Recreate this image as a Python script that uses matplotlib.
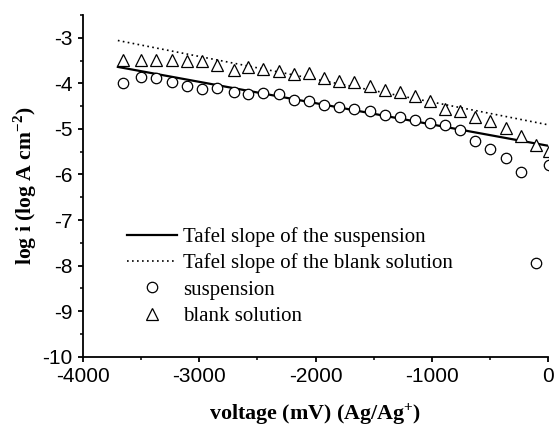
import matplotlib
matplotlib.use("Agg")
import matplotlib.pyplot as plt
from matplotlib.ticker import MultipleLocator

plt.rcParams['axes.unicode_minus'] = False
plt.rcParams['mathtext.fontset'] = 'custom'
plt.rcParams['mathtext.rm'] = 'Liberation Serif:bold'
plt.rcParams['mathtext.bf'] = 'Liberation Serif:bold'

# Measured points (potential in mV vs Ag/Ag+, log current density)
voltage = [-3653, -3500, -3369, -3237, -3106, -2975, -2845, -2704, -2578, -2452,
           -2317, -2188, -2057, -1930, -1799, -1667, -1535, -1406, -1277, -1148,
           -1011, -882, -753, -624, -497, -359, -230, -100, 11]
log_i_suspension = [-3.99, -3.87, -3.88, -3.97, -4.05, -4.12, -4.11, -4.20, -4.23, -4.21,
                    -4.23, -4.36, -4.39, -4.47, -4.52, -4.56, -4.61, -4.69, -4.74, -4.80,
                    -4.87, -4.92, -5.02, -5.26, -5.44, -5.64, -5.95, -7.94, -5.79]
log_i_blank = [-3.48, -3.48, -3.48, -3.48, -3.50, -3.50, -3.59, -3.70, -3.65, -3.68,
               -3.73, -3.79, -3.77, -3.89, -3.95, -3.98, -4.06, -4.14, -4.20, -4.28,
               -4.39, -4.56, -4.61, -4.74, -4.83, -4.98, -5.15, -5.35, -5.49]

# Tafel fit lines (end points)
tafel_v = [-3700, 0]
tafel_suspension = [-3.64, -5.37]
tafel_blank = [-3.06, -4.91]

fig = plt.figure(figsize=(5.54, 4.28), dpi=100)
ax = fig.add_axes([0.1498, 0.1666, 0.8394, 0.7984])

ax.plot(tafel_v, tafel_suspension, color='black', lw=1.6,
        label='Tafel slope of the suspension')
ax.plot(tafel_v, tafel_blank, color='black', lw=1.2, linestyle=(0, (1, 2)),
        label='Tafel slope of the blank solution')
ax.plot(voltage, log_i_suspension, linestyle='none', marker='o', ms=7.5,
        mfc='white', mec='black', mew=0.9, label='suspension')
ax.plot(voltage, log_i_blank, linestyle='none', marker='^', ms=8.5,
        mfc='white', mec='black', mew=0.9, label='blank solution')

ax.set_xlim(-4000, 0)
ax.set_ylim(-10, -2.5)
ax.xaxis.set_major_locator(MultipleLocator(1000))
ax.xaxis.set_minor_locator(MultipleLocator(500))
ax.yaxis.set_major_locator(MultipleLocator(1))
ax.yaxis.set_minor_locator(MultipleLocator(0.5))
ax.spines['top'].set_visible(False)
ax.spines['right'].set_visible(False)
for s in ('left', 'bottom'):
    ax.spines[s].set_linewidth(1.3)
ax.tick_params(which='major', direction='out', length=3.6, width=1.3,
               labelsize=15, pad=4)
ax.tick_params(which='minor', direction='out', length=2.4, width=1.1)
for lab in ax.get_xticklabels() + ax.get_yticklabels():
    lab.set_fontfamily('Liberation Sans')

serif = 'Liberation Serif'
ax.set_xlabel('voltage (mV) (Ag/Ag$^{+}$)', fontfamily=serif, fontweight='bold',
              fontsize=15.8, labelpad=11)
ax.set_ylabel('log i (log A cm$^{-2}$)', fontfamily=serif, fontweight='bold',
              fontsize=15.6, labelpad=2)

ax.legend(loc='upper left', bbox_to_anchor=(127 / 554, 1 - 227 / 428),
          bbox_transform=fig.transFigure, frameon=False, borderpad=0,
          borderaxespad=0, handlelength=2.4, handletextpad=0.3,
          labelspacing=0.32, prop={'family': serif, 'size': 15})

fig.savefig('out.png', dpi=100)
